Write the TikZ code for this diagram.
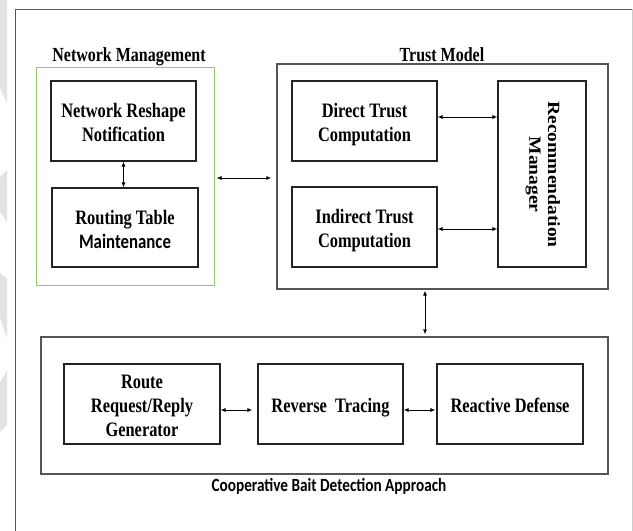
\documentclass[tikz,border=0pt]{standalone}
\usepackage{fontspec}
\setmainfont{Liberation Serif}[FakeStretch=0.8]
\newfontfamily\calfont{Carlito}[FakeStretch=0.82]
\newfontfamily\rotfont{Liberation Serif}
\usetikzlibrary{arrows.meta}
\definecolor{boxline}{RGB}{35,35,35}
\definecolor{frameline}{RGB}{85,85,85}
\definecolor{nmgreen}{RGB}{146,204,100}
\definecolor{bandgray}{RGB}{226,226,226}
\newcommand{\btext}[1]{\raisebox{-4pt}[\height][\depth]{\begin{tabular}{@{}c@{}}#1\end{tabular}}}
\tikzset{
  inbox/.style={draw=boxline, line width=1.1pt, minimum height=80pt, inner sep=0pt, font=\bfseries\fontsize{20.5}{24}\selectfont},
  outbox/.style={draw=frameline, line width=1.2pt, inner sep=0pt},
  dbl/.style={{Latex[length=5pt,width=4pt]}-{Latex[length=5pt,width=4pt]}, line width=0.9pt, black},
  grouplabel/.style={font=\bfseries\fontsize{20}{24}\selectfont, inner sep=0pt, anchor=base},
}
\begin{document}
\begin{tikzpicture}[x=1pt,y=-1pt]
\useasboundingbox (0,0) rectangle (633,531);
% background bands on the left edge
\fill[bandgray] (0,0) -- (7,0) -- (7,103) -- (0,88) -- cycle;
\fill[bandgray] (0,177) -- (7,170) -- (7,222) -- (0,212) -- cycle;
\fill[bandgray] (0,273) -- (7,278) -- (7,338) -- (0,317) -- cycle;
\fill[bandgray] (0,383) -- (7,370) -- (7,425) -- (0,432) -- cycle;
% outer frame
\draw[frameline, line width=1pt] (15,531) -- (15,9) -- (632,9);
\draw[black!20, line width=1pt] (632,9) -- (632,531);

% Network Management
\node[draw=nmgreen, line width=1pt, minimum width=178pt, minimum height=218pt, inner sep=0pt] (nm) at (125,176) {};
\node[grouplabel] (nmlabel) at (129,61.5) {Network Management};
\node[inbox, minimum width=145pt] (nrn) at (123.5,121) {\btext{Network Reshape\\Notification}};
\node[inbox, minimum width=146pt, minimum height=79pt] (rtm) at (125,227.5) {\btext{Routing Table\\{\calfont Maintenance}}};

% Trust Model
\node[outbox, minimum width=331pt, minimum height=225pt] (tm) at (442.5,176.5) {};
\node[grouplabel] (tmlabel) at (442,61) {Trust Model};
\node[inbox, minimum width=145pt] (dtc) at (364.5,121) {\btext{Direct Trust\\Computation}};
\node[inbox, minimum width=145pt] (itc) at (364.5,227) {\btext{Indirect Trust\\Computation}};
\node[draw=boxline, line width=1.1pt, minimum width=88pt, minimum height=186pt, inner sep=0pt] (rm) at (542,174) {};
\node[rotate=-90, inner sep=0pt] (rmtext) at (542.5,174.5) {\scalebox{1}[0.88]{\rotfont\bfseries\fontsize{19.5}{21.5}\selectfont\begin{tabular}{@{}c@{}}Recommendation\\Manager\end{tabular}}};

% Cooperative Bait Detection Approach
\node[outbox, minimum width=567pt, minimum height=137pt] (cb) at (324.5,405.5) {};
\node[inbox, minimum width=156pt] (rrg) at (142,404) {\btext{Route\\Request/Reply\\Generator}};
\node[inbox, minimum width=145pt] (rt) at (330.5,404) {\btext{Reverse\ \ Tracing}};
\node[inbox, minimum width=146pt] (rd) at (510,404) {\btext{Reactive Defense}};
\node[font=\calfont\bfseries\fontsize{18.6}{22}\selectfont, anchor=base, inner sep=0pt] (cblabel) at (329,491.5) {Cooperative Bait Detection Approach};

% connectors
\draw[dbl] (nrn.south) -- (nrn.south |- rtm.north);
\draw[dbl, shorten <=2pt, shorten >=5pt] ([yshift=-2pt]nm.east) -- ([yshift=-2pt]nm.east -| tm.west);
\draw[dbl] ([yshift=4pt]dtc.east) -- ([yshift=4pt]dtc.east -| rm.west);
\draw[dbl] ([yshift=-2pt]itc.east) -- ([yshift=-2pt]itc.east -| rm.west);
\draw[dbl, shorten <=1pt, shorten >=2pt] ([xshift=-17.5pt]tm.south) -- ([xshift=-17.5pt]tm.south |- cb.north);
\draw[dbl, shorten >=5pt] ([yshift=-6pt]rrg.east) -- ([yshift=-6pt]rrg.east -| rt.west);
\draw[dbl, shorten >=1pt] ([yshift=-6pt]rt.east) -- ([yshift=-6pt]rt.east -| rd.west);
\end{tikzpicture}
\end{document}
